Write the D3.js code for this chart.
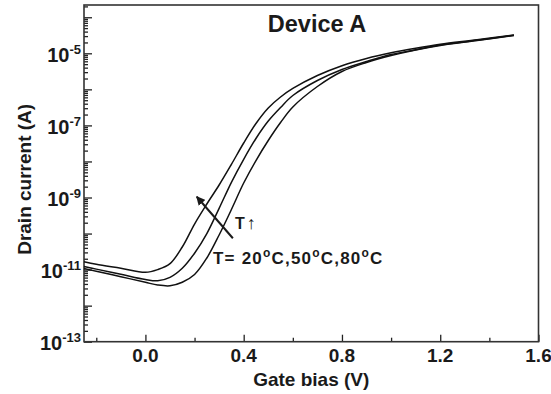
<!DOCTYPE html>
<html>
<head>
<meta charset="utf-8">
<script src="https://cdn.jsdelivr.net/npm/d3@7"></script>
<style>
  body { margin: 0; background: #fff; }
  svg text { font-family: "Liberation Sans", Arial, sans-serif; font-weight: bold; fill: #1a1a1a; }
</style>
</head>
<body>
<div id="chart"></div>
<script>
// gate bias (V) shared by the three temperature sweeps
const gateBias = [-0.25, -0.2, -0.1, 0.0, 0.05, 0.1, 0.15, 0.2, 0.25, 0.3, 0.35, 0.4, 0.45, 0.5, 0.55, 0.6, 0.7, 0.8, 0.9, 1.0, 1.1, 1.2, 1.35, 1.5]

// drain current (A) at each temperature
const drain20C = [1.07e-11, 8.97e-12, 6.35e-12, 4.45e-12, 3.74e-12, 3.56e-12, 4.45e-12, 7.31e-12, 2.10e-11, 9.12e-11, 4.65e-10, 2.52e-9, 1.06e-8, 3.81e-8, 1.20e-7, 3.24e-7, 1.20e-6, 3.13e-6, 5.56e-6, 8.69e-6, 1.24e-5, 1.65e-5, 2.26e-5, 3.12e-5]
const drain50C = [1.22e-11, 1.03e-11, 7.4e-12, 5.3e-12, 4.9e-12, 6.1e-12, 1.09e-11, 2.85e-11, 1.0e-10, 5.0e-10, 2.64e-9, 1.15e-8, 4.34e-8, 1.32e-7, 3.14e-7, 6.75e-7, 1.76e-6, 3.56e-6, 5.93e-6, 9.27e-6, 1.25e-5, 1.70e-5, 2.31e-5, 3.18e-5]
const drain80C = [1.66e-11, 1.40e-11, 1.09e-11, 8.4e-12, 1.0e-11, 1.46e-11, 4.24e-11, 1.84e-10, 6.6e-10, 2.22e-9, 8.3e-9, 3.25e-8, 1.13e-7, 3.04e-7, 6.14e-7, 1.06e-6, 2.42e-6, 4.53e-6, 7.18e-6, 1.03e-5, 1.38e-5, 1.78e-5, 2.37e-5, 3.22e-5]

// tick labels
const xTickLabels = [0.0, 0.4, 0.8, 1.2, 1.6]
const xMinorTicks = [-0.2, 0.2, 0.6, 1.0, 1.4]
const yTickExponents = [-13, -11, -9, -7, -5]

// annotation arrow (gate bias, current) from tail to head
const arrowTail = [0.356, 7.4e-11]
const arrowHead = [0.209, 1.05e-9]

function draw_chart(){

    let svgWidth = 551
    let svgHeight = 394
    let left = 84, right = 538.5, top = 5, bottom = 341.7

    let svg = d3.select("#chart")
        .append("svg")
            .attr("width", svgWidth)
            .attr("height", svgHeight)

    let x = d3.scaleLinear()
        .domain([-0.25, 1.6])
        .range([left, right])

    let y = d3.scaleLog()
        .domain([1e-13, Math.pow(10, -3.66)])
        .range([bottom, top])

    //arrow marker for the temperature annotation
    svg.append("defs")
        .append("marker")
            .attr("id", "head")
            .attr("viewBox", "0 0 10 10")
            .attr("refX", 9)
            .attr("refY", 5)
            .attr("markerWidth", 4.5)
            .attr("markerHeight", 4.5)
            .attr("orient", "auto")
        .append("path")
            .attr("d", "M0,0 L10,5 L0,10 z")
            .attr("fill", "#1a1a1a")

    //log minor ticks, one set per decade
    let yMajor = d3.range(-13, -3).map(e => Math.pow(10, e))
    let yMinor = []
    d3.range(-13, -3).forEach(function(e){
        for (let k = 2; k < 10; k++) {
            let v = k * Math.pow(10, e)
            if (v <= y.domain()[1]) yMinor.push(v)
        }
    })

    let yAxisMajor = svg.append("g")
        .attr("transform", `translate(${left},0)`)
        .call(d3.axisLeft(y).tickValues(yMajor).tickSize(-8).tickFormat(""))
    let yAxisMinor = svg.append("g")
        .attr("transform", `translate(${left},0)`)
        .call(d3.axisLeft(y).tickValues(yMinor).tickSize(-4).tickFormat(""))

    let xAxisMajor = svg.append("g")
        .attr("transform", `translate(0,${bottom})`)
        .call(d3.axisBottom(x).tickValues(xTickLabels).tickSize(-7).tickFormat(""))
    let xAxisMinor = svg.append("g")
        .attr("transform", `translate(0,${bottom})`)
        .call(d3.axisBottom(x).tickValues(xMinorTicks).tickSize(-4).tickFormat(""))

    ;[yAxisMajor, yAxisMinor, xAxisMajor, xAxisMinor].forEach(function(g){
        g.select(".domain").remove()
        g.selectAll("line").attr("stroke", "#222").attr("stroke-width", 1.3)
    })

    //plot frame
    svg.append("rect")
        .attr("x", left)
        .attr("y", top)
        .attr("width", right - left)
        .attr("height", bottom - top)
        .attr("fill", "none")
        .attr("stroke", "#333")
        .attr("stroke-width", 1.6)

    //y tick labels as 10^n
    let yLabels = svg.selectAll(".ylab")
        .data(yTickExponents)
        .join("text")
            .attr("class", "ylab")
            .attr("x", 81)
            .attr("y", e => y(Math.pow(10, e)) + 8.3)
            .attr("text-anchor", "end")
    yLabels.append("tspan").attr("font-size", 20).text("10")
    yLabels.append("tspan").attr("font-size", 13).attr("dy", -8).text(e => e)

    //x tick labels
    svg.selectAll(".xlab")
        .data(xTickLabels)
        .join("text")
            .attr("class", "xlab")
            .attr("x", d => x(d))
            .attr("y", 361.5)
            .attr("text-anchor", "middle")
            .attr("font-size", 19)
            .text(d => d3.format(".1f")(d))

    //axis titles
    svg.append("text")
        .attr("x", (left + right) / 2)
        .attr("y", 386)
        .attr("text-anchor", "middle")
        .attr("font-size", 19)
        .text("Gate bias (V)")

    svg.append("text")
        .attr("transform", `translate(31,${(top + bottom) / 2 + 6}) rotate(-90)`)
        .attr("text-anchor", "middle")
        .attr("font-size", 19)
        .text("Drain current (A)")

    // GRAPH TITLE
    svg.append("text")
        .attr("x", 317)
        .attr("y", 31.5)
        .attr("text-anchor", "middle")
        .attr("font-size", 23.5)
        .text("Device A")

    //curves
    let line = d3.line()
        .x(d => x(d[0]))
        .y(d => y(d[1]))
        .curve(d3.curveCatmullRom.alpha(0.5))

    let series = [drain20C, drain50C, drain80C]
    svg.selectAll(".curve")
        .data(series)
        .join("path")
            .attr("class", "curve")
            .attr("d", s => line(gateBias.map((v, i) => [v, s[i]])))
            .attr("fill", "none")
            .attr("stroke", "#111")
            .attr("stroke-width", 1.5)

    //temperature annotation
    svg.append("line")
        .attr("x1", x(arrowTail[0]))
        .attr("y1", y(arrowTail[1]))
        .attr("x2", x(arrowHead[0]))
        .attr("y2", y(arrowHead[1]))
        .attr("stroke", "#1a1a1a")
        .attr("stroke-width", 2)
        .attr("marker-end", "url(#head)")

    let tUp = svg.append("text")
        .attr("x", 235)
        .attr("y", 228.5)
        .attr("font-size", 16)
    tUp.append("tspan").text("T")
    tUp.append("tspan").attr("font-weight", "normal").attr("font-size", 18).attr("dx", 2).text("\u2191")

    let temps = svg.append("text")
        .attr("x", 213)
        .attr("y", 263.5)
        .attr("font-size", 17)
        .attr("letter-spacing", 1.2)
    temps.append("tspan").text("T= 20")
    temps.append("tspan").attr("font-size", 12).attr("dy", -7).text("o")
    temps.append("tspan").attr("dy", 7).text("C,50")
    temps.append("tspan").attr("font-size", 12).attr("dy", -7).text("o")
    temps.append("tspan").attr("dy", 7).text("C,80")
    temps.append("tspan").attr("font-size", 12).attr("dy", -7).text("o")
    temps.append("tspan").attr("dy", 7).text("C")
}

draw_chart()
</script>
</body>
</html>
